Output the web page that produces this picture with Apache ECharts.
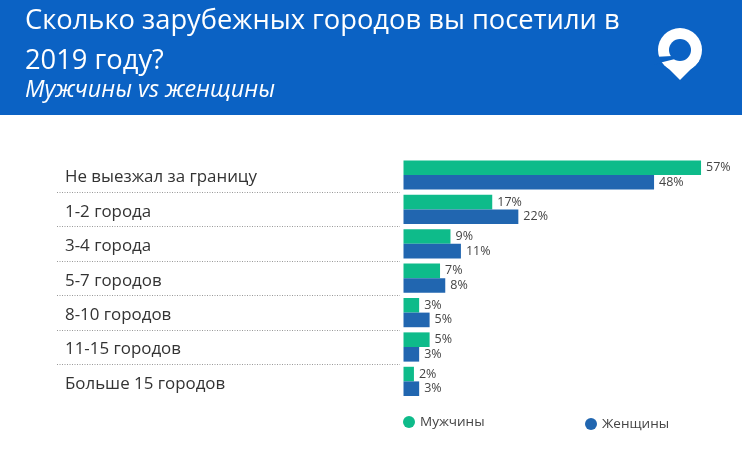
<!DOCTYPE html>
<html><head><meta charset="utf-8">
<style>html,body{margin:0;padding:0;background:#fff}#c{width:742px;height:460px}</style>
<script src="https://cdn.jsdelivr.net/npm/echarts@6/dist/echarts.min.js"></script>
</head><body><div id="c"></div>
<script>
const categories = ['Не выезжал за границу','1-2 города','3-4 города','5-7 городов','8-10 городов','11-15 городов','Больше 15 городов'];
const men = [57,17,9,7,3,5,2];
const women = [48,22,11,8,5,3,3];
const seriesNames = ['Мужчины','Женщины'];
const titleLines = 'Сколько зарубежных городов вы посетили в\n2019 году?';
const subtitle = 'Мужчины vs женщины';
const font = '"Open Sans", sans-serif';
const chart = echarts.init(document.getElementById('c'), null, {renderer:'canvas'});
const lbl = {show:true, position:'right', distance:5, formatter:'{c}%', color:'#444', fontFamily:font, fontSize:12.5};
chart.setOption({
  animation:false,
  backgroundColor:'#fff',
  graphic:[
    {type:'rect', z:-1, shape:{x:0,y:0,width:742,height:115}, style:{fill:'#0B62C4'}},
    {type:'text', left:25, top:1, style:{text:titleLines, fill:'#fff', font:'27.3px '+font, lineHeight:40}},
    {type:'text', left:25, top:79, style:{text:subtitle, fill:'#fff', font:'italic 23.4px '+font}},
    {type:'circle', shape:{cx:680,cy:50,r:22}, style:{fill:'#fff'}},
    {type:'polygon', shape:{points:[[661,61],[699,61],[680,80]]}, style:{fill:'#fff'}},
    {type:'circle', shape:{cx:680,cy:50,r:11}, style:{fill:'#0B62C4'}},
    {type:'polygon', shape:{points:[[654,57],[672,56],[675,59],[663,62],[654,65]]}, style:{fill:'#0B62C4'}}
  ],
  legend:[
    {data:[seriesNames[0]], left:398, top:410, icon:'circle', itemWidth:12, itemHeight:12, itemGap:3, textStyle:{color:'#444',fontFamily:font,fontSize:13.5}, selectedMode:false},
    {data:[seriesNames[1]], left:580, top:412, icon:'circle', itemWidth:12, itemHeight:12, itemGap:3, textStyle:{color:'#444',fontFamily:font,fontSize:13.5}, selectedMode:false}
  ],
  grid:[
    {left:403.5, top:157.8, width:313.2, height:240.8},
    {left:57, top:157.8, width:343, height:240.8},
    {left:57, top:160.3, width:343, height:240.8}
  ],
  xAxis:[
    {gridIndex:0, type:'value', min:0, max:60, show:false},
    {gridIndex:1, type:'value', min:0, max:1, show:false},
    {gridIndex:2, type:'value', min:0, max:1, show:false}
  ],
  yAxis:[
    {gridIndex:0, type:'category', inverse:true, data:categories, axisLine:{show:false}, axisTick:{show:false}, axisLabel:{show:false}, splitLine:{show:false}},
    {gridIndex:1, type:'category', inverse:true, data:categories, axisLine:{show:false}, axisTick:{show:false}, axisLabel:{show:false},
      splitLine:{show:true, showMinLine:false, showMaxLine:false, lineStyle:{type:[1,1.5], color:'#999', width:1}}},
    {gridIndex:2, type:'category', inverse:true, data:categories, axisLine:{show:false}, axisTick:{show:false}, splitLine:{show:false},
      axisLabel:{inside:true, margin:8, color:'#333', fontFamily:font, fontSize:16.9}}
  ],
  series:[
    {type:'bar', name:seriesNames[0], data:men, xAxisIndex:0, yAxisIndex:0, barGap:0, barCategoryGap:'15%', itemStyle:{color:'#0EBB8A'}, label:lbl},
    {type:'bar', name:seriesNames[1], data:women, xAxisIndex:0, yAxisIndex:0, itemStyle:{color:'#2166B0'}, label:lbl}
  ]
});
</script></body></html>
